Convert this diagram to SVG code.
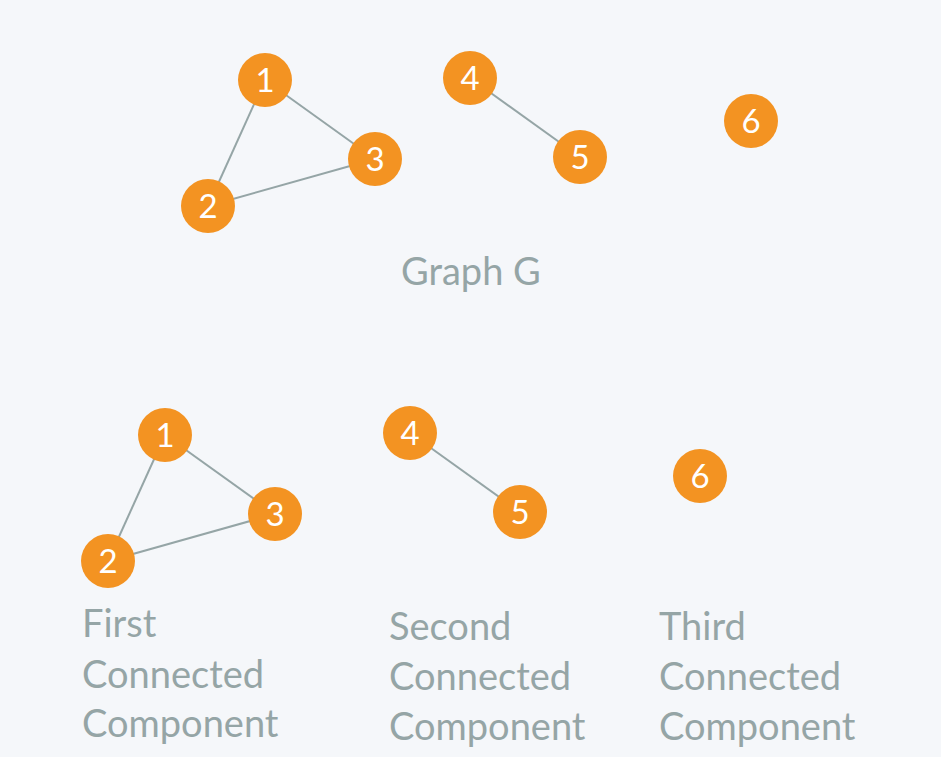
<svg xmlns="http://www.w3.org/2000/svg" width="941" height="757" viewBox="0 0 941 757">
<style>
.edge{stroke:#95A5A6;stroke-width:2;fill:none}
.node circle{fill:#F39322}
.node text{fill:#FFFFFF;font-family:Lato,"Open Sans",sans-serif;font-size:33px;text-anchor:middle}
.label{fill:#95A5A6;font-family:Lato,"Open Sans",sans-serif;font-size:38px}
</style>
<rect width="941" height="757" fill="#F5F7FA"/>
<g id="connectors">
<line class="edge" x1="265" y1="80" x2="208" y2="206"/>
<line class="edge" x1="265" y1="80" x2="375" y2="159"/>
<line class="edge" x1="208" y1="206" x2="375" y2="159"/>
<line class="edge" x1="470" y1="78" x2="580" y2="157"/>
<line class="edge" x1="165" y1="435" x2="108" y2="561"/>
<line class="edge" x1="165" y1="435" x2="275" y2="514"/>
<line class="edge" x1="108" y1="561" x2="275" y2="514"/>
<line class="edge" x1="410" y1="433" x2="520" y2="512"/>
</g>
<g id="g1" class="node"><circle cx="265" cy="80" r="27"/><text x="265" y="92">1</text></g>
<g id="g2" class="node"><circle cx="208" cy="206" r="27"/><text x="208" y="218">2</text></g>
<g id="g3" class="node"><circle cx="375" cy="159" r="27"/><text x="375" y="171">3</text></g>
<g id="g4" class="node"><circle cx="470" cy="78" r="27"/><text x="470" y="90">4</text></g>
<g id="g5" class="node"><circle cx="580" cy="157" r="27"/><text x="580" y="169">5</text></g>
<g id="g6" class="node"><circle cx="751" cy="121" r="27"/><text x="751" y="133">6</text></g>
<g id="c1" class="node"><circle cx="165" cy="435" r="27"/><text x="165" y="447">1</text></g>
<g id="c2" class="node"><circle cx="108" cy="561" r="27"/><text x="108" y="573">2</text></g>
<g id="c3" class="node"><circle cx="275" cy="514" r="27"/><text x="275" y="526">3</text></g>
<g id="c4" class="node"><circle cx="410" cy="433" r="27"/><text x="410" y="445">4</text></g>
<g id="c5" class="node"><circle cx="520" cy="512" r="27"/><text x="520" y="524">5</text></g>
<g id="c6" class="node"><circle cx="700" cy="476" r="27"/><text x="700" y="488">6</text></g>
<text class="label" x="401" y="285">Graph G</text>
<text class="label" x="82" y="637">First</text>
<text class="label" x="82" y="688">Connected</text>
<text class="label" x="82" y="737">Component</text>
<text class="label" x="389" y="640">Second</text>
<text class="label" x="389" y="690">Connected</text>
<text class="label" x="389" y="740">Component</text>
<text class="label" x="659" y="640">Third</text>
<text class="label" x="659" y="690">Connected</text>
<text class="label" x="659" y="740">Component</text>
</svg>
